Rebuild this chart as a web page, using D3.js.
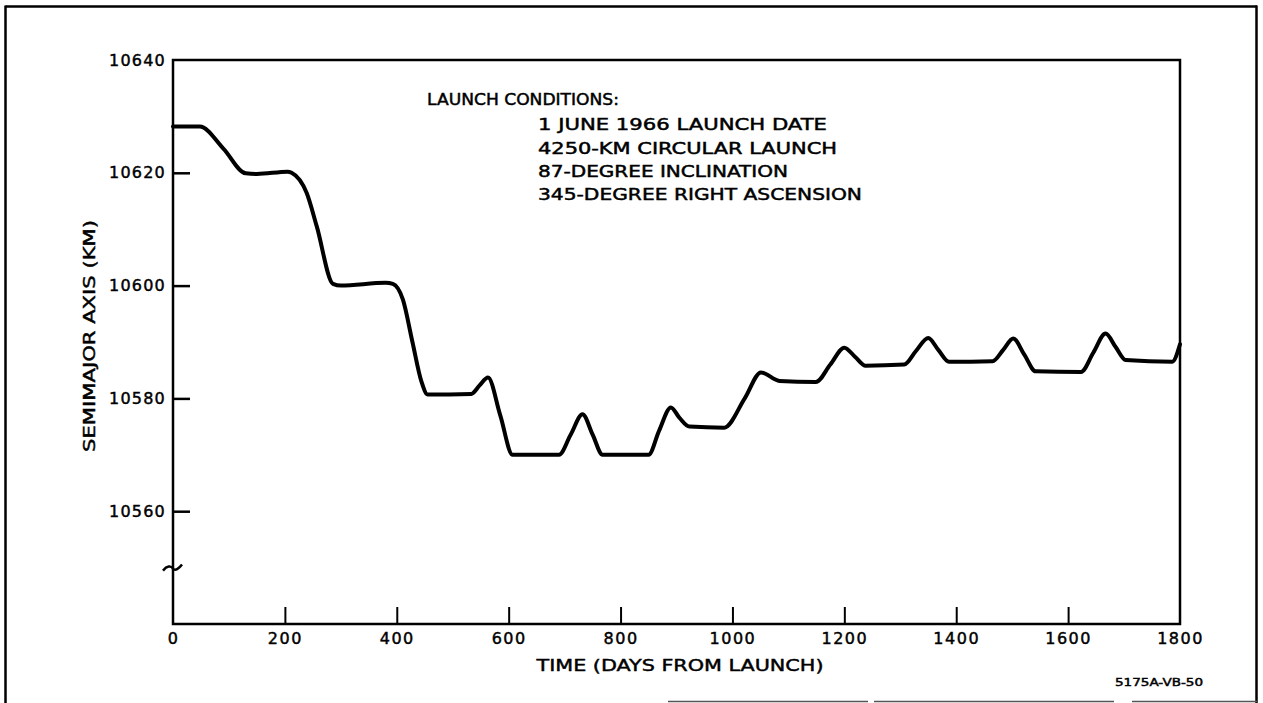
<!DOCTYPE html>
<html>
<head>
<meta charset="utf-8">
<script src="https://cdn.jsdelivr.net/npm/d3@7"></script>
<style>
  html, body { margin: 0; padding: 0; background: #fff; }
  svg { display: block; }
  text { font-family: "DejaVu Sans", sans-serif; fill: #000; stroke: #000; stroke-width: 0.45px; }
</style>
</head>
<body>
<svg id="chart" width="1263" height="703"></svg>
<script>
// Semimajor axis history, days from launch vs km
const days = [
  0, 48, 90, 130, 150, 205, 212, 239, 257, 286, 300, 380, 393,
  411, 428, 444, 455, 533, 548, 563, 585, 607, 690, 711, 732, 750, 768, 850,
  869, 890, 905, 923, 985, 1022, 1051, 1084, 1149, 1175, 1200, 1219, 1238,
  1307, 1328, 1350, 1368, 1387, 1465, 1484, 1502, 1522, 1542, 1623, 1645,
  1667, 1685, 1703, 1786, 1800
];
const semimajorKm = [
  10628.2, 10628.2, 10624.3, 10619.9, 10619.8, 10620.2, 10620.0,
  10616.4, 10610.5, 10600.3, 10600.0, 10600.5, 10600.3,
  10597.5, 10590.0, 10583.0, 10580.7, 10580.8, 10582.3, 10583.7, 10577.0, 10570.0,
  10570.0, 10573.6, 10577.2, 10573.6, 10570.0, 10570.0,
  10574.3, 10578.4, 10576.6, 10575.0, 10574.8, 10580.0, 10584.6, 10583.1, 10582.9,
  10586.0, 10589.0, 10587.4, 10585.8,
  10586.0, 10588.4, 10590.7, 10588.6, 10586.5, 10586.6, 10588.6, 10590.6, 10587.7,
  10584.8, 10584.7, 10588.1, 10591.5, 10589.1, 10586.8, 10586.5, 10589.6
];

// Axis ticks
const xTickValues = [0, 200, 400, 600, 800, 1000, 1200, 1400, 1600, 1800];
const yTickValues = [10560, 10580, 10600, 10620, 10640];

// Text blocks
const xTitle = "TIME (DAYS FROM LAUNCH)";
const yTitle = "SEMIMAJOR AXIS (KM)";
const conditionsHeading = "LAUNCH CONDITIONS:";
const conditionLines = [
  "1 JUNE 1966 LAUNCH DATE",
  "4250-KM CIRCULAR LAUNCH",
  "87-DEGREE INCLINATION",
  "345-DEGREE RIGHT ASCENSION"
];
const figureCode = "5175A-VB-50";

const svg = d3.select("#chart");

const x = d3.scaleLinear().domain([0, 1800]).range([173, 1180]);
const y = d3.scaleLinear().domain([10540, 10640]).range([624, 60]);

// Outer figure frame
const frame = svg.append("g").attr("stroke", "#000").attr("stroke-width", 2.5).attr("fill", "none");
frame.append("line").attr("x1", 5.5).attr("y1", 6.5).attr("x2", 1257).attr("y2", 6.5);
frame.append("line").attr("x1", 5.5).attr("y1", 5.5).attr("x2", 5.5).attr("y2", 703);
frame.append("line").attr("x1", 1256.5).attr("y1", 5.5).attr("x2", 1256.5).attr("y2", 703);
svg.append("line").attr("x1", 668).attr("y1", 701.5).attr("x2", 1257).attr("y2", 701.5)
  .attr("stroke", "#555").attr("stroke-width", 1.5).attr("stroke-dasharray", "200,6,240,18,130");

// Plot box
const box = svg.append("g").attr("stroke", "#000").attr("stroke-width", 2.5).attr("fill", "none");
box.append("path").attr("d", `M${x(0)},${y(10640)}H${x(1800)}V${y(10540)}H${x(0)}Z`);

// Axis break on the vertical axis
svg.append("path")
  .attr("d", `M${x(0) - 10},${y(10550) + 3} C${x(0) - 6},${y(10550) - 2} ${x(0) - 2},${y(10550) - 2} ${x(0)},${y(10550) + 1} S${x(0) + 6},${y(10550) + 1} ${x(0) + 9},${y(10550) - 3}`)
  .attr("fill", "none").attr("stroke", "#000").attr("stroke-width", 2.5);

// Y axis with inward ticks
const yAxis = svg.append("g")
  .attr("transform", `translate(${x(0)},0)`)
  .call(d3.axisLeft(y).tickValues(yTickValues).tickSize(-17).tickPadding(7).tickFormat(d3.format("d")));
yAxis.select(".domain").remove();
yAxis.selectAll(".tick line").attr("stroke", "#000").attr("stroke-width", 2.5)
  .filter(d => d === 10640).remove();
yAxis.selectAll(".tick text")
  .attr("font-size", 16).attr("letter-spacing", "1.2px").attr("fill", "#000")
  .attr("font-family", "DejaVu Sans, sans-serif");

// X axis with inward ticks
const xAxis = svg.append("g")
  .attr("transform", `translate(0,${y(10540)})`)
  .call(d3.axisBottom(x).tickValues(xTickValues).tickSize(-17).tickPadding(9).tickFormat(d3.format("d")));
xAxis.select(".domain").remove();
xAxis.selectAll(".tick line").attr("stroke", "#000").attr("stroke-width", 2)
  .filter(d => d === 0 || d === 1800).remove();
xAxis.selectAll(".tick text")
  .attr("font-size", 16).attr("letter-spacing", "1.5px").attr("fill", "#000")
  .attr("font-family", "DejaVu Sans, sans-serif");

// Axis titles
svg.append("text")
  .attr("x", 680).attr("y", 671)
  .attr("text-anchor", "middle").attr("font-size", 16)
  .attr("textLength", 287).attr("lengthAdjust", "spacingAndGlyphs")
  .text(xTitle);

svg.append("text")
  .attr("transform", "translate(95,336) rotate(-90)")
  .attr("text-anchor", "middle").attr("font-size", 16)
  .attr("textLength", 232).attr("lengthAdjust", "spacingAndGlyphs")
  .text(yTitle);

// Launch conditions note
svg.append("text")
  .attr("x", 427).attr("y", 105).attr("font-size", 15)
  .attr("textLength", 192).attr("lengthAdjust", "spacingAndGlyphs")
  .text(conditionsHeading);

const lineWidths = [289, 299, 250, 324];
const lineBaselines = [130, 153.5, 176.5, 200];
svg.append("g").selectAll("text")
  .data(conditionLines)
  .join("text")
  .attr("x", 538)
  .attr("y", (d, i) => lineBaselines[i])
  .attr("font-size", 15)
  .attr("textLength", (d, i) => lineWidths[i])
  .attr("lengthAdjust", "spacingAndGlyphs")
  .text(d => d);

// Figure code
svg.append("text")
  .attr("x", 1203).attr("y", 686).attr("text-anchor", "end")
  .attr("font-size", 10.5).attr("textLength", 88).attr("lengthAdjust", "spacingAndGlyphs")
  .text(figureCode);

// Semimajor axis curve
const series = days.map((d, i) => [d, semimajorKm[i]]);
const line = d3.line()
  .x(d => x(d[0]))
  .y(d => y(d[1]))
  .curve(d3.curveMonotoneX);

svg.append("path")
  .datum(series)
  .attr("d", line)
  .attr("fill", "none")
  .attr("stroke", "#000")
  .attr("stroke-width", 4)
  .attr("stroke-linejoin", "round")
  .attr("stroke-linecap", "round");
</script>
</body>
</html>
